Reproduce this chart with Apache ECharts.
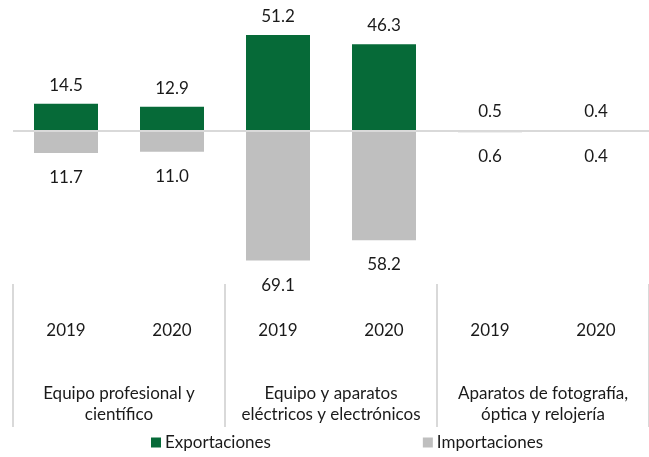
<!DOCTYPE html>
<html>
<head>
<meta charset="utf-8">
<style>
  html, body { margin: 0; padding: 0; background: #ffffff; }
  #chart { width: 649px; height: 457px; }
</style>
<script src="https://cdn.jsdelivr.net/npm/echarts@6/dist/echarts.min.js"></script>
</head>
<body>
<div id="chart"></div>
<script>
// Trade by product group and year (billions)
const years = ['2019', '2020', '2019', '2020', '2019', '2020'];
const groups = [
  'Equipo profesional y\ncientífico',
  'Equipo y aparatos\neléctricos y electrónicos',
  'Aparatos de fotografía,\nóptica y relojería'
];
const exportaciones = [14.5, 12.9, 51.2, 46.3, 0.5, 0.4];
const importaciones = [11.7, 11.0, 69.1, 58.2, 0.6, 0.4];

const FONT = 'Lato';
const FS = 17;
const TEXT = '#1a1a1a';

const chart = echarts.init(document.getElementById('chart'), null, { renderer: 'canvas' });

chart.setOption({
  backgroundColor: '#ffffff',
  animation: false,
  textStyle: { fontFamily: FONT },
  legend: {
    bottom: 1,
    left: 146,
    itemWidth: 10,
    itemHeight: 10,
    itemGap: 152,
    icon: 'rect',
    textStyle: { fontFamily: FONT, fontSize: FS, color: TEXT, padding: [0, 0, 0, -1] },
    data: ['Exportaciones', 'Importaciones']
  },
  grid: { left: 13, right: -1, top: 18.5, bottom: 173 },
  xAxis: [
    {
      type: 'category',
      data: years,
      position: 'bottom',
      axisLine: { show: false, onZero: false },
      axisTick: { show: false },
      axisLabel: { margin: 38, fontFamily: FONT, fontSize: FS, color: TEXT, interval: 0 }
    },
    {
      type: 'category',
      data: groups,
      position: 'bottom',
      axisLine: { show: false, onZero: false },
      axisTick: { show: true, length: 143, interval: 0, lineStyle: { color: '#d9d9d9', width: 2 } },
      axisLabel: { margin: 99, fontFamily: FONT, fontSize: FS, lineHeight: 21, color: TEXT, interval: 0, align: 'center' }
    }
  ],
  yAxis: {
    type: 'value',
    min: -81.6,
    max: 60,
    show: false,
    splitLine: { show: false }
  },
  series: [
    {
      name: 'Exportaciones',
      type: 'bar',
      xAxisIndex: 0,
      data: exportaciones,
      barWidth: 64,
      barGap: '-100%',
      itemStyle: { color: '#066a38' },
      label: {
        show: true,
        position: 'top',
        distance: 10,
        fontFamily: FONT,
        fontSize: FS,
        color: TEXT,
        formatter: p => p.value.toFixed(1)
      },
      markLine: {
        silent: true,
        symbol: 'none',
        label: { show: false },
        lineStyle: { color: '#d9d9d9', width: 2, type: 'solid' },
        data: [{ yAxis: 0 }]
      },
      z: 3
    },
    {
      name: 'Importaciones',
      type: 'bar',
      xAxisIndex: 0,
      data: importaciones.map(v => -v),
      barWidth: 64,
      barGap: '-100%',
      itemStyle: { color: '#bfbfbf' },
      label: {
        show: true,
        position: 'bottom',
        distance: 16,
        fontFamily: FONT,
        fontSize: FS,
        color: TEXT,
        formatter: p => Math.abs(p.value).toFixed(1)
      },
      z: 2
    }
  ]
});
</script>
</body>
</html>
